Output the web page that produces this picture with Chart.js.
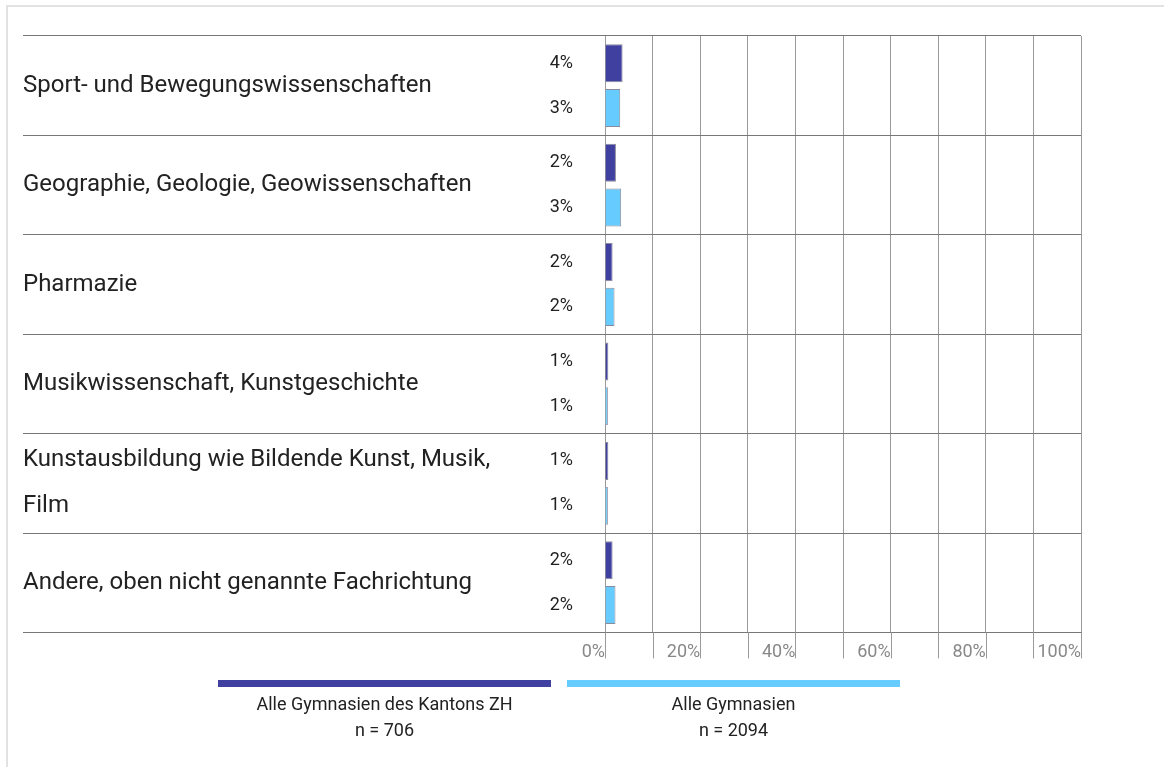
<!DOCTYPE html>
<html>
<head>
<meta charset="utf-8">
<script src="https://cdn.jsdelivr.net/npm/chart.js@4.4.1/dist/chart.umd.min.js"></script>
<style>
  html, body { margin: 0; padding: 0; background: #fff; }
  body { width: 1164px; height: 767px; position: relative; overflow: hidden; font-family: Roboto, "Noto Sans", sans-serif; color: #222; }
  .frame { position: absolute; left: 6px; top: 5px; right: -4px; bottom: -4px; border-left: 2px solid #e2e2e2; border-top: 2px solid #e2e2e2; }
  #wrap { position: absolute; left: 0; top: 0; width: 1164px; height: 681px; }
  .legend-item { position: absolute; top: 680px; width: 333px; text-align: center; font-size: 18px; line-height: 26px; }
  .legend-item .swatch { height: 7px; margin-bottom: 4px; }
</style>
</head>
<body>
<div class="frame"></div>
<div id="wrap"><canvas id="chart"></canvas></div>
<div id="legend"></div>
<script>
// data (percent)
const categories = [
  ['Sport- und Bewegungswissenschaften'],
  ['Geographie, Geologie, Geowissenschaften'],
  ['Pharmazie'],
  ['Musikwissenschaft, Kunstgeschichte'],
  ['Kunstausbildung wie Bildende Kunst, Musik,', 'Film'],
  ['Andere, oben nicht genannte Fachrichtung'],
];
const zhValues = [3.7, 2.3, 1.6, 0.7, 0.7, 1.6];
const allValues = [3.2, 3.4, 2.0, 0.6, 0.6, 2.2];
const seriesNames = ['Alle Gymnasien des Kantons ZH', 'Alle Gymnasien'];
const seriesN = ['n = 706', 'n = 2094'];
const seriesColors = ['#4040a0', '#66ccff'];
const xTicks = [0, 20, 40, 60, 80, 100];

const FONT = 'Roboto, "Noto Sans", sans-serif';

// category names, value labels and the tick stubs under the plot
const sideLabels = {
  id: 'sideLabels',
  afterDraw(chart) {
    const ctx = chart.ctx;
    const x = chart.scales.x;
    const y = chart.scales.y;
    const area = chart.chartArea;
    ctx.save();
    // grid lines run on below the plot through the tick labels
    ctx.strokeStyle = '#9a9a9a';
    ctx.lineWidth = 1;
    x.ticks.forEach(t => {
      const px = Math.round(x.getPixelForValue(t.value)) + 0.5;
      ctx.beginPath();
      ctx.moveTo(px, area.bottom);
      ctx.lineTo(px, area.bottom + 26);
      ctx.stroke();
    });
    ctx.fillStyle = '#222';
    ctx.textBaseline = 'middle';
    ctx.font = '24px ' + FONT;
    ctx.textAlign = 'left';
    categories.forEach((lines, i) => {
      const cy = y.getPixelForValue(i);
      const lh = 46;
      lines.forEach((t, k) => {
        ctx.fillText(t, 23, cy + (k - (lines.length - 1) / 2) * lh);
      });
    });
    ctx.font = '18px ' + FONT;
    ctx.textAlign = 'right';
    chart.data.datasets.forEach((ds, di) => {
      chart.getDatasetMeta(di).data.forEach((bar, i) => {
        ctx.fillText(Math.round(ds.data[i]) + '%', 573, bar.y);
      });
    });
    ctx.restore();
  }
};

new Chart(document.getElementById('chart'), {
  type: 'bar',
  data: {
    labels: categories.map(c => c.join(' ')),
    datasets: [
      { label: seriesNames[0], data: zhValues, backgroundColor: seriesColors[0], borderColor: '#8a8a9a', borderWidth: 1 },
      { label: seriesNames[1], data: allValues, backgroundColor: seriesColors[1], borderColor: '#8a8a9a', borderWidth: 1 },
    ],
  },
  options: {
    indexAxis: 'y',
    responsive: true, maintainAspectRatio: false,
    animation: false,
    categoryPercentage: 0.9,
    barPercentage: 0.85,
    layout: { padding: { left: 23, top: 36, right: 83, bottom: 9 } },
    plugins: { legend: { display: false }, tooltip: { enabled: false } },
    scales: {
      x: {
        min: 0, max: 100,
        grid: { color: '#9a9a9a', lineWidth: 1, drawTicks: false },
        border: { display: true, color: '#777' },
        ticks: {
          stepSize: 10, align: 'end', padding: 9, color: '#888',
          font: { size: 18, family: FONT },
          callback: v => (xTicks.includes(v) ? v + '%' : ''),
          autoSkip: false, maxRotation: 0,
        },
      },
      y: {
        grid: { offset: true, color: '#777', drawTicks: true, tickLength: 582, tickColor: '#777' },
        border: { display: false },
        ticks: { display: false },
      },
    },
  },
  plugins: [sideLabels],
});

// legend below the chart
const legendLeft = [218, 567];
document.getElementById('legend').innerHTML = seriesNames.map((name, i) => `
  <div class="legend-item" style="left:${legendLeft[i]}px">
    <div class="swatch" style="background:${seriesColors[i]}"></div>
    <div>${name}</div>
    <div>${seriesN[i]}</div>
  </div>`).join('');
</script>
</body>
</html>
